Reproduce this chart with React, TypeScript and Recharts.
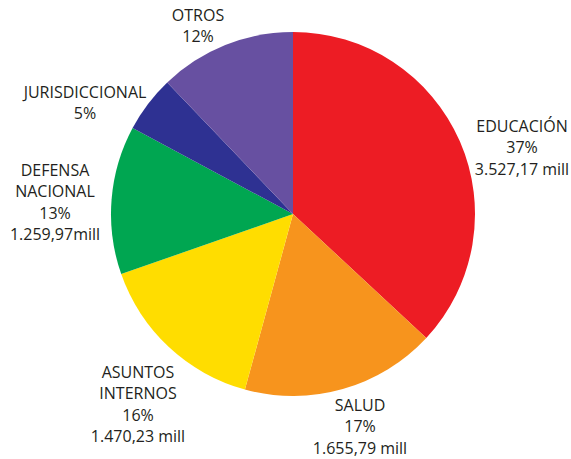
import React from "react";
import { PieChart, Pie, Cell } from "recharts";

const categories = ["EDUCACIÓN", "SALUD", "ASUNTOS INTERNOS", "DEFENSA NACIONAL", "JURISDICCIONAL", "OTROS"];
const nameLines = [["EDUCACIÓN"], ["SALUD"], ["ASUNTOS", "INTERNOS"], ["DEFENSA", "NACIONAL"], ["JURISDICCIONAL"], ["OTROS"]];
const values = [3527.17, 1655.79, 1470.23, 1259.97, 480, 1160];
const percents = ["37%", "17%", "16%", "13%", "5%", "12%"];
const amounts = ["3.527,17 mill", "1.655,79 mill", "1.470,23 mill", "1.259,97mill", "", ""];
const colors = ["#ED1C24", "#F7941D", "#FFDD00", "#00A651", "#2E3192", "#6750A1"];

// label block position (centre x, first baseline) relative to the pie centre
const labelOffsets = [
  [229, -82],
  [67, 197],
  [-155, 164],
  [-238, -38],
  [-208, -116],
  [-95, -193],
];

const data = categories.map((name, i) => ({ name, value: values[i] }));

const LINE_H = 21.3;

const renderLabel = (props: any) => {
  const { cx, cy, index } = props;
  const [dx, dy] = labelOffsets[index];
  const lines = [...nameLines[index], percents[index]];
  if (amounts[index]) lines.push(amounts[index]);
  return (
    <text
      x={cx + dx}
      y={cy + dy}
      textAnchor="middle"
      fill="#231F20"
      fontSize={16}
      fontFamily="'Open Sans', sans-serif"
    >
      {lines.map((l, k) => (
        <tspan key={k} x={cx + dx} y={cy + dy + k * LINE_H}>
          {l}
        </tspan>
      ))}
    </text>
  );
};

export default function App() {
  return (
    <div style={{ position: "absolute", left: 0, top: 0, width: 571, height: 459, background: "#fff" }}>
      <PieChart width={571} height={459} margin={{ top: 0, right: 0, bottom: 0, left: 0 }}>
        <Pie
          data={data}
          dataKey="value"
          cx={293}
          cy={214}
          outerRadius={182}
          startAngle={90}
          endAngle={-270}
          stroke="none"
          label={renderLabel}
          labelLine={false}
          isAnimationActive={false}
        >
          {data.map((d, i) => (
            <Cell key={d.name} fill={colors[i]} />
          ))}
        </Pie>
      </PieChart>
    </div>
  );
}
